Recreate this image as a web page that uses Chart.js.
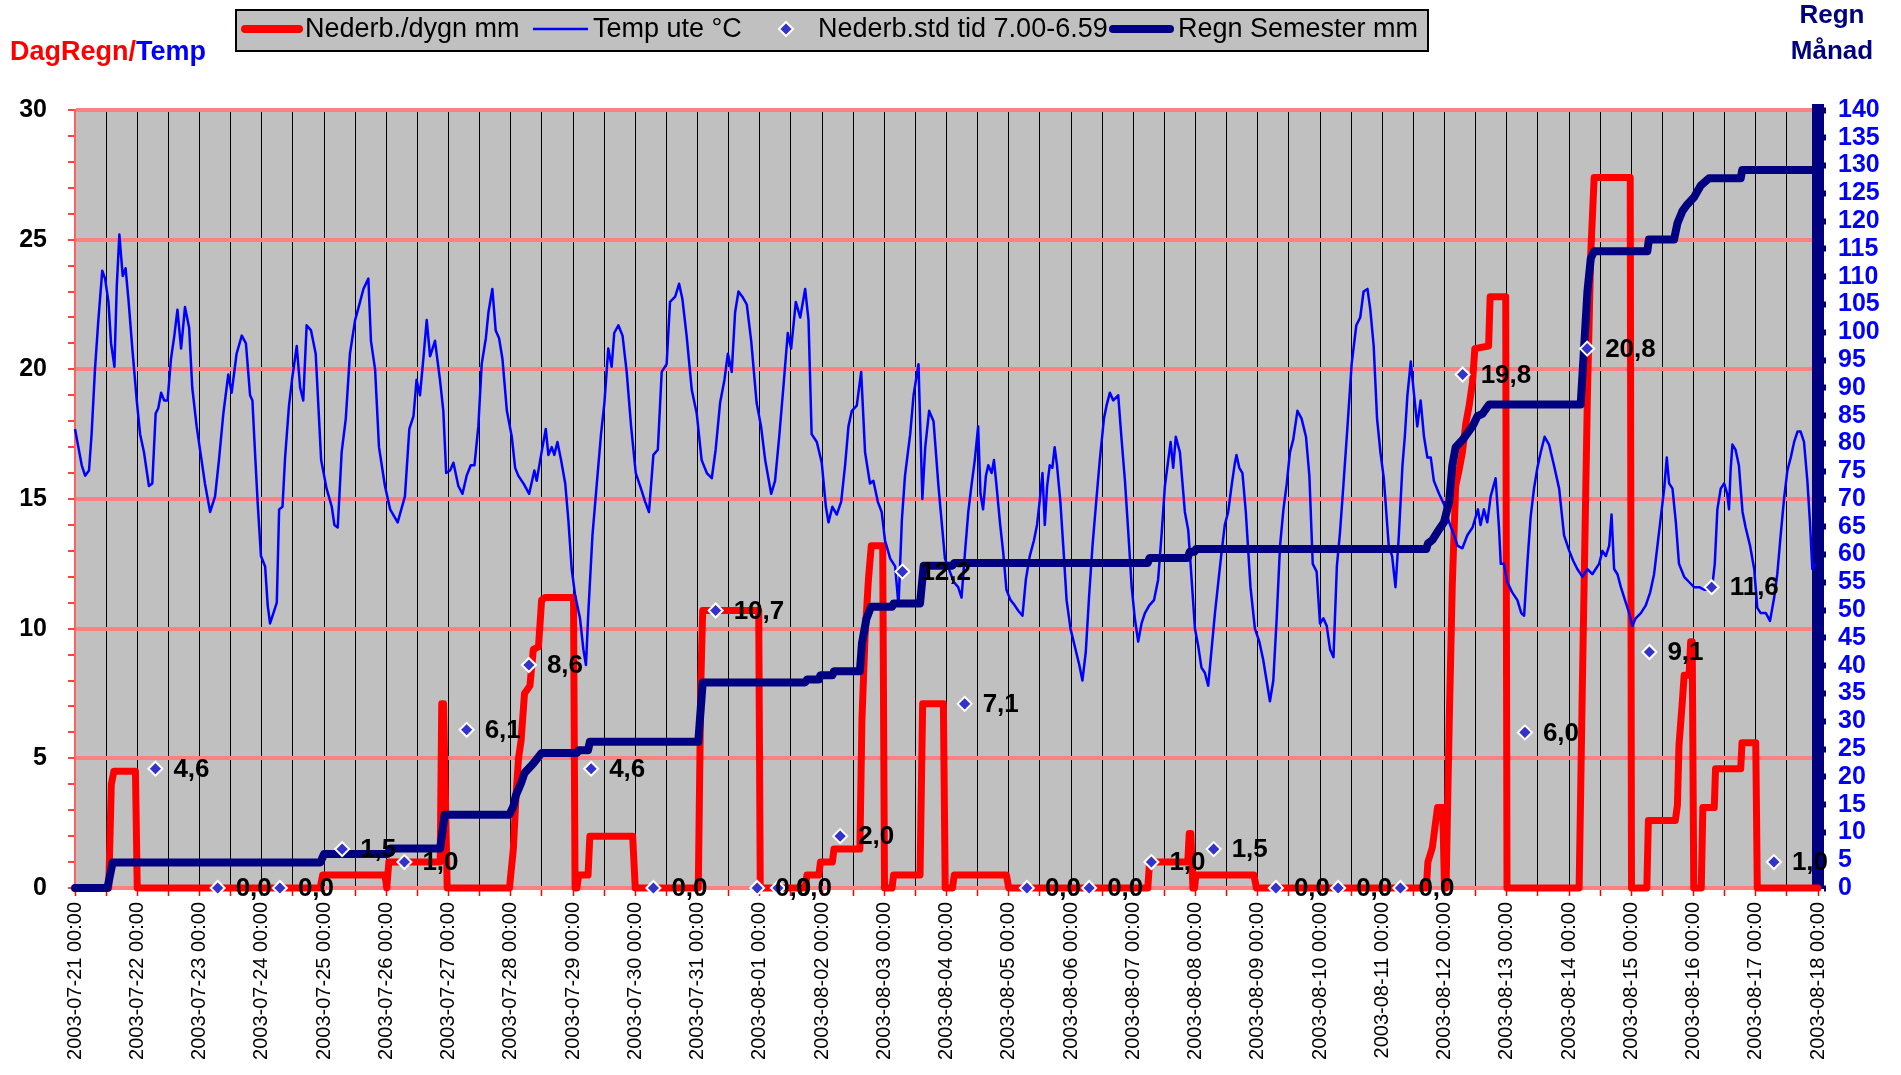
<!DOCTYPE html>
<html>
<head>
<meta charset="utf-8">
<script src="https://cdn.jsdelivr.net/npm/chart.js@4.4.1/dist/chart.umd.min.js"></script>
<style>
  html, body { margin: 0; padding: 0; background: #FFFFFF; }
  #wrap { position: relative; width: 1901px; height: 1075px; }
</style>
</head>
<body>
<div id="wrap"><canvas id="c"></canvas></div>
<script>
// ---------------- DATA ----------------
// x values are hours after 2003-07-21 00:00
const dateLabels = [
  '2003-07-21 00:00','2003-07-22 00:00','2003-07-23 00:00','2003-07-24 00:00','2003-07-25 00:00',
  '2003-07-26 00:00','2003-07-27 00:00','2003-07-28 00:00','2003-07-29 00:00','2003-07-30 00:00',
  '2003-07-31 00:00','2003-08-01 00:00','2003-08-02 00:00','2003-08-03 00:00','2003-08-04 00:00',
  '2003-08-05 00:00','2003-08-06 00:00','2003-08-07 00:00','2003-08-08 00:00','2003-08-09 00:00',
  '2003-08-10 00:00','2003-08-11 00:00','2003-08-12 00:00','2003-08-13 00:00','2003-08-14 00:00',
  '2003-08-15 00:00','2003-08-16 00:00','2003-08-17 00:00','2003-08-18 00:00'
];

const seriesNames = ['Nederb./dygn mm', 'Temp ute °C', 'Nederb.std tid 7.00-6.59', 'Regn Semester mm'];

// Nederb./dygn mm (left axis)
const rainDayHours = [0,13,14,15,23.3,24,
  94.5,95.5,119.5,120.2,121,140.8,141.4,142.1,143.5,
  167.5,169,170,171,172,173.3,175.4,176.7,178.7,179.9,181.2,192.2,192.8,
  193.5,194.2,197.8,198.5,215,216,
  240.3,241.3,242,263.6,264.2,
  281.5,282.2,286.8,287.4,292,292.6,302.6,303.4,304.6,305.9,307,311.4,312.1,
  315,315.6,325.8,326.8,334.8,335.5,
  338.3,339,359.1,360,
  413.6,414.3,429,429.6,430.2,431,431.6,432.2,454.5,455.5,
  521,521.6,523.3,525.3,527.3,528,528.6,529.8,531,532.3,533.6,534.9,536.2,537.5,538.8,539.7,545,545.6,551.6,552.1,
  579.9,581.2,583.1,584.4,585.7,599.6,600.1,
  606,606.6,617,617.8,618.4,619.7,620.4,622.3,622.9,623.5,624.1,
  627,627.6,632,632.5,642.2,642.7,648,648.6,672];
const rainDayValues = [0,0,4.0,4.5,4.5,0,
  0,0.5,0.5,0,1.0,1.0,7.1,7.1,0,
  0,1.5,3.5,5.0,5.7,7.5,7.8,9.2,9.3,11.1,11.2,11.2,0,
  0,0.5,0.5,2.0,2.0,0,
  0,8.0,10.7,10.7,0,
  0,0.5,0.5,1.0,1.0,1.5,1.5,6.5,9.7,11.9,13.2,13.2,0,
  0,0.5,0.5,7.1,7.1,0,
  0,0.5,0.5,0,
  0,1.0,1.0,2.1,2.1,0,0,0.5,0.5,0,
  0,1.0,1.55,3.1,3.1,0,0,6.3,11.7,15.5,16.1,16.8,17.9,18.6,19.5,20.8,20.9,22.8,22.8,0,
  0,8.1,19.0,24.5,27.4,27.4,0,
  0,2.6,2.6,3.2,5.5,7.2,8.2,8.2,9.5,9.5,0,
  0,3.1,3.1,4.6,4.6,5.6,5.6,0,0];

// Temp ute °C (left axis)
const tempHours = [0,1.3,2.6,3.9,5.4,6.4,7.7,9,10.5,11.6,12.9,13.9,15.2,16.1,17.1,18.4,19.5,20.6,22.1,23.8,
  25.1,26.6,28.5,29.8,31.1,32.1,33.2,34.4,35.7,37,38.3,39.5,40.9,42.4,44,45.2,46.9,
  48.2,50.1,52.1,54,55.5,57.2,59.1,60.4,62.3,64.3,65.9,67.5,68.4,69.4,70.4,71.7,
  73.3,74.3,75.2,76.5,77.8,78.7,80,81,82.5,83.8,85.5,86.8,88,89.3,91,92.8,94.9,
  97,99,100,101.3,102.8,104.4,106,108,109.9,111.2,113.1,114.1,115.7,117.2,119.5,
  121.5,124.4,127.2,128.9,130.5,131.7,133,134.3,135.6,136.9,138.8,140.7,142,143.1,
  144.6,145.9,147.8,149.4,151,152.6,154,155.5,156.8,158.4,159.4,160.9,162.2,163.5,164.8,166.5,
  168.4,169.7,170.9,172.9,175.1,177.1,178,179.7,181.5,182.5,183.8,184.8,186,187.4,189,190.2,
  191.5,192.8,194.7,196,197,197.9,199.5,201.1,202.8,204.1,205.6,206.9,207.9,209.5,211.1,
  212.7,214.4,216.2,217.9,219.8,221.3,223,224.7,226.2,228.1,229.4,231.4,232.9,234.2,235.8,
  237.8,239.7,241.6,243.6,245.5,247,248.7,250.4,251.7,253.2,254.5,255.8,257.3,259,260.7,
  262.8,264.5,266.1,268.4,269.9,271.5,273.1,274.8,276.1,277.9,279.6,281.5,282.8,284,286,
  287.9,289.5,290.5,292,293.7,295.4,296.9,298.2,299.5,301.4,303.1,304.6,306.5,307.8,309.5,
  311,312.3,314.3,316.2,317.5,318.8,320,322,323.3,325.2,326.7,327.8,329.3,331,332.9,
  335.4,337.3,338.8,340.5,341.8,343.1,344.4,345.6,346.9,348.2,349.1,350.1,351.2,352.1,353.4,
  354.3,355.3,356.6,357.9,359.1,360.7,362.3,363.6,365.3,366.6,368.1,369.7,370.9,371.9,373,
  373.9,374.8,375.8,376.8,377.7,378.6,379.9,381.2,382.3,383.8,385.5,387.2,388.4,389.7,391,
  392.3,393.8,395.1,396.7,397.7,399,400.3,402.2,403.5,404.8,406.1,407.4,408.6,409.9,411.2,
  412.5,414.2,416,417.6,418.9,420.2,421.5,422.4,423.4,424.4,426,427.9,429.2,430.5,431.8,
  433.1,434.3,435.6,436.9,438.2,439.5,440.8,442,443.3,444.6,445.9,447.2,447.8,448.9,450.1,
  451.4,453.2,454.9,456.6,458.1,459.4,460.7,462,463.3,464.6,465.9,467.2,468.4,469.7,471.3,
  472.9,474.6,475.9,477.2,478.7,480,481.3,482.6,483.9,485.2,486.5,487.7,489,490.6,492.2,
  494,495.5,496.8,498.3,499.4,500.7,502,503.3,504.6,506.5,507.8,509.1,510.4,511.8,512.7,
  513.7,515,516.3,517.5,518.8,520.1,521.4,522.7,523.9,525.9,527.8,529.8,531.7,533,534.9,
  536.8,538.8,540,540.9,541.9,543.2,544.5,545.8,547.7,549,549.7,550.9,552.2,554.1,556.1,
  557.6,558.7,560,561.2,562.5,563.8,565.1,566.6,568.3,570.2,572.2,574.1,576.1,577.7,579.2,
  581.2,583.1,585,586.3,587.6,588.9,590.2,591.5,592.4,593.4,594.7,596,597.9,599.2,600.4,
  601.7,603.7,605.6,607.3,608.8,610.1,611.4,612.7,613.7,614.6,615.9,617.2,618.4,620.4,622.3,
  624.2,626.2,628.1,630,631.3,632.2,633.2,634.5,635.8,637,637.7,638.3,639,640.2,641.5,
  642.9,644.1,645.8,647.4,648.6,649.9,651.9,653.5,655.1,656.3,657.6,658.9,660.2,661.5,662.8,
  664.1,665.3,666.6,667.9,668.9,669.8,671];
const tempValues = [17.7,17.0,16.3,15.9,16.1,17.5,20.0,21.9,23.8,23.5,22.6,21.0,20.1,23.2,25.2,23.6,23.9,22.7,20.8,18.8,
  17.5,16.8,15.5,15.6,18.3,18.5,19.1,18.8,18.8,20.4,21.3,22.3,20.8,22.4,21.6,19.3,17.8,
  16.9,15.6,14.5,15.1,16.5,18.3,19.8,19.1,20.6,21.3,21.0,19.0,18.8,16.8,14.9,12.8,
  12.4,10.9,10.2,10.6,11.0,14.6,14.7,16.6,18.6,19.7,20.9,19.3,18.8,21.7,21.5,20.6,16.5,
  15.4,14.7,14.0,13.9,16.8,18.1,20.6,21.9,22.6,23.1,23.5,21.1,20.0,17.0,15.5,
  14.6,14.1,15.1,17.7,18.2,19.6,19.0,20.4,21.9,20.5,21.1,19.6,18.4,16.0,
  16.1,16.4,15.5,15.2,15.9,16.3,16.3,17.8,20.2,21.2,22.2,23.1,21.5,21.2,20.4,18.4,
  17.4,16.2,15.9,15.6,15.2,16.1,15.7,16.7,17.7,16.7,17.0,16.7,17.2,16.5,15.6,14.2,
  12.3,11.3,10.4,9.2,8.6,10.6,13.6,15.5,17.5,18.7,20.8,20.1,21.4,21.7,21.3,
  19.9,17.8,16.0,15.5,14.9,14.5,16.7,16.9,19.9,20.2,22.6,22.8,23.3,22.7,21.3,
  19.2,18.3,16.5,16.0,15.8,16.9,18.7,19.6,20.6,19.9,22.2,23.0,22.8,22.5,21.1,
  18.7,17.8,16.5,15.2,15.7,17.4,19.3,21.4,20.8,22.6,22.0,23.1,21.9,17.5,17.2,
  16.4,14.7,14.1,14.7,14.4,14.9,16.3,17.8,18.4,18.6,19.9,16.8,15.6,15.7,14.9,
  14.5,13.4,12.7,12.4,10.9,14.2,15.9,17.5,19.0,20.2,15.0,17.0,18.4,18.0,15.5,
  12.7,12.2,11.8,11.6,11.2,12.9,14.5,15.5,16.5,17.8,15.2,14.6,15.9,16.3,16.0,
  16.5,15.5,14.1,12.9,11.5,11.1,10.9,10.7,10.5,11.9,12.8,13.4,14.0,14.9,16.0,
  14.0,15.5,16.3,16.2,17.0,16.3,14.9,12.9,11.1,10.0,9.3,8.6,8.0,9.1,11.3,
  13.2,15.0,16.5,18.1,18.6,19.1,18.8,19.0,17.3,15.7,13.7,11.6,10.4,9.5,10.2,
  10.6,10.9,11.1,11.9,13.6,15.5,16.5,17.2,16.2,17.4,16.8,14.5,13.8,11.9,10.0,
  9.3,8.5,8.3,7.8,9.2,10.6,11.8,12.9,14.0,14.5,15.5,16.4,16.7,16.2,16.0,
  14.5,11.6,10.0,9.5,8.8,8.0,7.2,8.0,10.4,13.2,14.6,15.6,16.8,17.3,18.4,
  18.1,17.4,15.9,12.5,12.2,10.2,10.4,10.1,9.2,8.9,12.4,13.7,15.5,17.8,20.2,
  21.7,22.0,23.0,23.1,22.3,20.9,18.1,16.8,15.8,13.2,12.8,11.6,13.6,16.3,17.4,
  19.0,20.3,19.0,17.8,18.8,17.4,16.6,16.6,15.7,15.2,14.8,14.1,13.6,13.2,13.1,
  13.6,13.9,14.3,14.6,14.0,14.6,14.1,15.1,15.8,13.9,12.5,12.5,11.8,11.4,11.1,
  10.6,10.5,12.6,14.3,15.4,16.2,16.8,17.4,17.1,16.3,15.4,13.6,13.0,12.6,12.3,
  12.0,12.3,12.1,12.3,12.5,13.0,12.8,13.2,14.4,12.3,12.1,11.6,11.0,10.6,10.1,
  10.4,10.6,10.9,11.4,12.1,13.2,14.3,15.4,16.6,15.6,15.4,14.1,12.5,12.0,11.8,
  11.6,11.6,11.5,11.5,11.7,12.5,14.6,15.4,15.6,15.2,14.6,16.1,17.1,16.9,16.3,
  14.5,13.9,13.2,12.3,10.8,10.6,10.6,10.3,11.2,12.1,13.6,15.0,16.1,16.6,17.2,
  17.6,17.6,17.2,15.7,14.1,12.3,12.5];

// Nederb.std tid 7.00-6.59 (markers, left axis)
const rainStdHours = [31,55,79,103,127,151,175,199,223,247,263,271,295,319,343,367,391,415,439,463,487,511,535,559,583,607,631,655];
const rainStdValues = [4.6,0.0,0.0,1.5,1.0,6.1,8.6,4.6,0.0,10.7,0.0,0.0,2.0,12.2,7.1,0.0,0.0,1.0,1.5,0.0,0.0,0.0,19.8,6.0,20.8,9.1,11.6,1.0];

// Regn Semester mm (right axis)
const rainSemHours = [0,12.5,14.5,94.6,96,120.5,121.5,140.8,142.5,167.5,169,170,172,173.3,176.7,179.9,
  193.5,194.2,197.8,198.5,240.3,242,281.5,282.2,286.8,287.4,292,292.6,302.6,303.4,305.1,306.9,
  315,315.6,325.8,327.2,338.3,339,413.6,414.3,429,429.8,431.6,432.2,
  521,521.6,523.3,525.3,527.8,529.8,531,532.3,534.9,536.8,538.8,540.7,542.6,545.2,
  580.5,581.8,583.1,584.4,585.7,606.2,606.8,616.5,617.8,619.7,621.6,624.2,626.8,630,642.2,642.8,672];
const rainSemValues = [0,0,4.6,4.6,6.1,6.1,7.1,7.1,13.2,13.2,14.7,16.7,18.9,20.7,22.4,24.3,
  24.3,24.8,24.8,26.3,26.3,37.0,37.0,37.5,37.5,38.3,38.3,39.0,39.0,44.0,48.4,50.6,
  50.6,51.2,51.2,58.0,58.0,58.5,58.5,59.4,59.4,60.5,60.5,61.0,
  61.0,62.0,62.6,64.1,65.8,69.5,76.0,79.3,80.6,81.8,83.1,84.9,85.3,87.0,
  87.0,97.1,107.3,113.3,114.6,114.6,116.7,116.7,119.6,121.8,123.0,124.3,126.4,127.7,127.7,129.2,129.2];

// ---------------- CHART ----------------
const FONT = '"Liberation Sans", Arial, sans-serif';
Chart.defaults.font.family = FONT;

const toPts = (xs, ys) => xs.map((x, i) => ({ x: x, y: ys[i] }));

const COLORS = { rain: '#FF0000', temp: '#0000FF', std: '#3333CC', sem: '#000080' };

const bgPlugin = {
  id: 'bg',
  beforeDraw(chart) {
    const { ctx, chartArea: a } = chart;
    ctx.save();
    ctx.fillStyle = '#FFFFFF';
    ctx.fillRect(0, 0, chart.width, chart.height);
    ctx.fillStyle = '#C0C0C0';
    ctx.fillRect(a.left, a.top, a.right - a.left, a.bottom - a.top);
    ctx.restore();
  }
};

const stdLabelPlugin = {
  id: 'stdLabels',
  afterDatasetsDraw(chart) {
    const meta = chart.getDatasetMeta(2);
    const ctx = chart.ctx;
    ctx.save();
    ctx.font = 'bold 26px ' + FONT;
    ctx.fillStyle = '#000000';
    ctx.textBaseline = 'middle';
    ctx.textAlign = 'left';
    meta.data.forEach((pt, i) => {
      const v = rainStdValues[i];
      ctx.fillText(v.toFixed(1).replace('.', ','), pt.x + 18, pt.y + 1);
    });
    ctx.restore();
  }
};

const textPlugin = {
  id: 'texts',
  afterDraw(chart) {
    const ctx = chart.ctx;
    ctx.save();
    // left title
    ctx.font = 'bold 27px ' + FONT;
    ctx.textBaseline = 'alphabetic';
    ctx.textAlign = 'left';
    ctx.fillStyle = '#FF0000';
    ctx.fillText('DagRegn/', 10, 60);
    const w = ctx.measureText('DagRegn/').width;
    ctx.fillStyle = '#0000FF';
    ctx.fillText('Temp', 10 + w, 60);
    // right title
    ctx.font = 'bold 26px ' + FONT;
    ctx.fillStyle = '#000080';
    ctx.textAlign = 'center';
    ctx.fillText('Regn', 1832, 23);
    ctx.fillText('Månad', 1832, 59);

    // legend box
    ctx.fillStyle = '#C0C0C0';
    ctx.fillRect(236, 10, 1192, 41);
    ctx.strokeStyle = '#000000';
    ctx.lineWidth = 2;
    ctx.strokeRect(236, 10, 1192, 41);

    const ly = 29;
    ctx.lineCap = 'round';
    // item 1
    ctx.strokeStyle = COLORS.rain; ctx.lineWidth = 8;
    ctx.beginPath(); ctx.moveTo(245, ly); ctx.lineTo(299, ly); ctx.stroke();
    // item 2
    ctx.strokeStyle = COLORS.temp; ctx.lineWidth = 2.5; ctx.lineCap = 'butt';
    ctx.beginPath(); ctx.moveTo(533, ly); ctx.lineTo(588, ly); ctx.stroke();
    // item 3 diamond
    ctx.fillStyle = COLORS.std; ctx.strokeStyle = '#FFFFFF'; ctx.lineWidth = 2;
    ctx.beginPath(); ctx.moveTo(786, ly - 7); ctx.lineTo(793, ly); ctx.lineTo(786, ly + 7); ctx.lineTo(779, ly); ctx.closePath();
    ctx.fill(); ctx.stroke();
    // item 4
    ctx.strokeStyle = COLORS.sem; ctx.lineWidth = 8; ctx.lineCap = 'round';
    ctx.beginPath(); ctx.moveTo(1113, ly); ctx.lineTo(1170, ly); ctx.stroke();

    ctx.font = '27px ' + FONT;
    ctx.fillStyle = '#000000';
    ctx.textAlign = 'left';
    ctx.textBaseline = 'middle';
    const names = chart.data.datasets.map(d => d.label);
    ctx.fillText(names[0], 305, ly + 1);
    ctx.fillText(names[1], 593, ly + 1);
    ctx.fillText(names[2], 818, ly + 1);
    ctx.fillText(names[3], 1178, ly + 1);
    ctx.restore();
  }
};

new Chart(document.getElementById('c'), {
  type: 'line',
  data: {
    datasets: [
      { label: seriesNames[0], data: toPts(rainDayHours, rainDayValues), yAxisID: 'y',
        borderColor: COLORS.rain, borderWidth: 7, pointRadius: 0, tension: 0,
        borderJoinStyle: 'round', borderCapStyle: 'round', clip: false, order: 4 },
      { label: seriesNames[1], data: toPts(tempHours, tempValues), yAxisID: 'y',
        borderColor: COLORS.temp, borderWidth: 2.5, pointRadius: 0, tension: 0,
        borderJoinStyle: 'round', clip: false, order: 3 },
      { label: seriesNames[2], data: toPts(rainStdHours, rainStdValues), yAxisID: 'y',
        showLine: false, pointStyle: 'rectRot', pointRadius: 7,
        pointBackgroundColor: COLORS.std, pointBorderColor: '#FFFFFF', pointBorderWidth: 2,
        clip: false, order: 1 },
      { label: seriesNames[3], data: toPts(rainSemHours, rainSemValues), yAxisID: 'y2',
        borderColor: COLORS.sem, borderWidth: 8, pointRadius: 0, tension: 0,
        borderJoinStyle: 'round', borderCapStyle: 'round', clip: false, order: 2 }
    ]
  },
  options: {
    responsive: true,
    maintainAspectRatio: false,
    animation: false,
    events: [],
    layout: { padding: { top: 110, left: 0, right: 0, bottom: 0 } },
    plugins: { legend: { display: false }, tooltip: { enabled: false }, title: { display: false } },
    scales: {
      x: {
        type: 'linear', position: 'bottom', min: 0, max: 672,
        afterFit(scale) { scale.height = 187; },
        ticks: {
          stepSize: 12, autoSkip: false, maxRotation: 90, minRotation: 90,
          callback: (v) => (v % 24 === 0 ? dateLabels[v / 24] : ''),
          font: { size: 20 }, color: '#000000', padding: 6
        },
        grid: { color: '#000000', lineWidth: 1, tickColor: '#FF0000', tickLength: 8, tickWidth: 1.5 },
        border: { display: false }
      },
      y: {
        position: 'left', min: 0, max: 30,
        afterFit(scale) { scale.width = 75; },
        ticks: {
          stepSize: 1, autoSkip: false,
          callback: (v) => (v % 5 === 0 ? String(v) : ''),
          font: { size: 25, weight: 'bold' }, color: '#000000', padding: 21
        },
        grid: {
          color: (c) => (c.tick && c.tick.value % 5 === 0 ? '#FF8080' : 'rgba(0,0,0,0)'),
          lineWidth: 4, tickColor: '#FF0000', tickLength: 7, tickWidth: 1.5
        },
        border: { color: '#FF6060', width: 2 }
      },
      y2: {
        position: 'right', min: 0, max: 140,
        afterFit(scale) { scale.width = 83; },
        ticks: {
          stepSize: 5, autoSkip: false,
          font: { size: 25, weight: 'bold' }, color: '#0000FF', padding: 12
        },
        grid: { drawOnChartArea: false, tickColor: '#000080', tickLength: 8, tickWidth: 6 },
        border: { color: '#000080', width: 12 }
      }
    }
  },
  plugins: [bgPlugin, stdLabelPlugin, textPlugin]
});
</script>
</body>
</html>
